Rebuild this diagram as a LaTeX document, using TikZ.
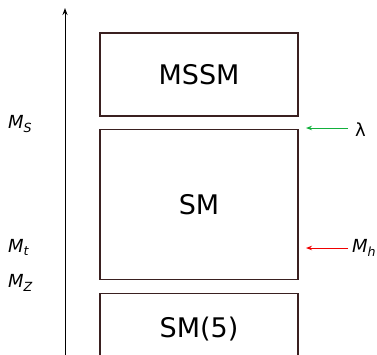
\documentclass[tikz,border=0pt]{standalone}
\usepackage{fontspec}
\setmainfont{DejaVu Sans}
\usetikzlibrary{positioning,arrows.meta}
\definecolor{boxline}{HTML}{3A2020}
\definecolor{lamgreen}{HTML}{12B03C}
\definecolor{mhred}{HTML}{F00000}

\begin{document}
\begin{tikzpicture}[
  x=1pt, y=-1pt,
  node distance=12pt,
  every node/.style={font=\fontsize{18}{20}\selectfont},
  theory/.style={draw=boxline, line width=1.2pt, minimum width=198pt,
                 font=\fontsize{27}{30}\selectfont, inner sep=0pt},
  scale lbl/.style={anchor=west, inner sep=0pt},
  input/.style={anchor=west, inner ysep=2pt},
  arr/.style={-{Stealth[length=6pt,width=4.5pt]}, line width=1pt}
]
  \useasboundingbox (0,0) rectangle (377,354);

  % Energy axis
  \coordinate (axbot) at (65,356);
  \coordinate (axtop) at (65,8);
  \draw[-{Stealth[length=7pt,width=5pt]}, line width=1pt] (axbot) -- (axtop);

  % Stack of effective theories
  \node[theory, minimum height=83pt] (mssm) at (199,74.5) {MSSM};
  \node[theory, minimum height=150pt, below=12pt of mssm] (sm) {SM};
  \node[theory, minimum height=80pt, below=13pt of sm] (sm5) {\raisebox{13pt}{SM(5)}};

  % Scales on the left
  \node[scale lbl] (ms) at (8,124) {\textit{M\textsubscript{S}}};
  \node[scale lbl] (mt) at (8,247) {\textit{M\textsubscript{t}}};
  \node[scale lbl] (mz) at (8,283) {\textit{M\textsubscript{Z}}};

  % Inputs on the right
  \coordinate (lamtip) at (306,128);
  \coordinate (mhtip) at (306,248);
  \node[input, inner xsep=7pt] (lam) at (348,130) {λ};
  \node[input, inner xsep=4pt] (mh) at (348,248) {\textit{M\textsubscript{h}}};
  \draw[arr, lamgreen] (lam.west |- lamtip) -- (lamtip);
  \draw[arr, mhred] (mh.west |- mhtip) -- (mhtip);
\end{tikzpicture}
\end{document}
